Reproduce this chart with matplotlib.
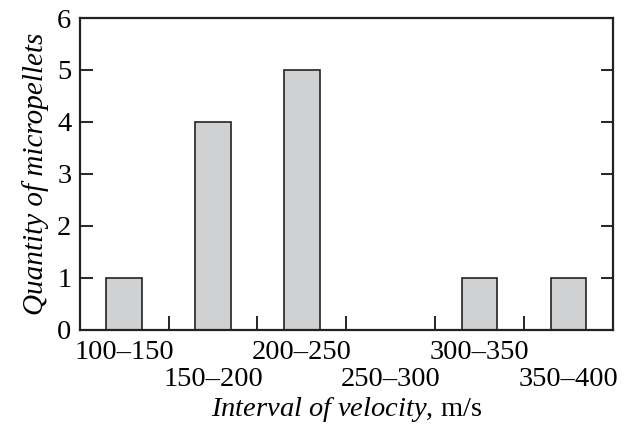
import matplotlib
matplotlib.use('Agg')
import matplotlib.pyplot as plt
import matplotlib.transforms as mtransforms
import numpy as np

# интервалы скорости и количество микрочастиц
intervals = ['100–150', '150–200', '200–250', '250–300', '300–350', '350–400']
counts = [1, 4, 5, 0, 1, 1]
y_ticks = [0, 1, 2, 3, 4, 5, 6]

plt.rcParams['font.family'] = ['Liberation Serif', 'DejaVu Serif']
plt.rcParams['mathtext.fontset'] = 'custom'
plt.rcParams['mathtext.it'] = 'Liberation Serif:italic'
plt.rcParams['mathtext.rm'] = 'Liberation Serif'

fig = plt.figure(figsize=(6.28, 4.29), dpi=100)
ax = fig.add_axes([0.127, 0.231, 0.849, 0.727])

x = np.arange(len(intervals))
ax.bar(x, counts, width=0.4, color='#d0d1d3', edgecolor='#222222', linewidth=1.2)

ax.set_xlim(-0.5, len(intervals) - 0.5)
ax.set_ylim(0, 6)

# подписи интервалов в два ряда (чётные выше, нечётные ниже)
ax.set_xticks([])
ax.set_xticks(x[:-1] + 0.5, minor=True)
ax.tick_params(axis='x', which='minor', direction='in', length=10, width=1.2,
               labelbottom=False)
base = ax.get_xaxis_transform()
for k, lab in enumerate(intervals):
    dy = -16 if k % 2 == 0 else -36
    tr = base + mtransforms.ScaledTranslation(0, dy / 72, fig.dpi_scale_trans)
    ax.text(x[k], 0, lab, transform=tr, ha='center', va='center', fontsize=20.5)

ax.set_yticks(y_ticks)
ax.tick_params(axis='y', direction='in', length=9, width=1.2, labelsize=20.5, pad=6,
               right=True)

for s in ax.spines.values():
    s.set_linewidth(1.6)
    s.set_color('#222222')

ax.set_ylabel('Quantity of micropellets', fontsize=21, fontstyle='italic', labelpad=6)
ax.set_xlabel(r'$\mathit{Interval\ of\ velocity}$, m/s', fontsize=20.5)
ax.xaxis.set_label_coords(0.5, -0.256)
ax.xaxis.label.set_va('center')

fig.savefig('out.png', dpi=100)
